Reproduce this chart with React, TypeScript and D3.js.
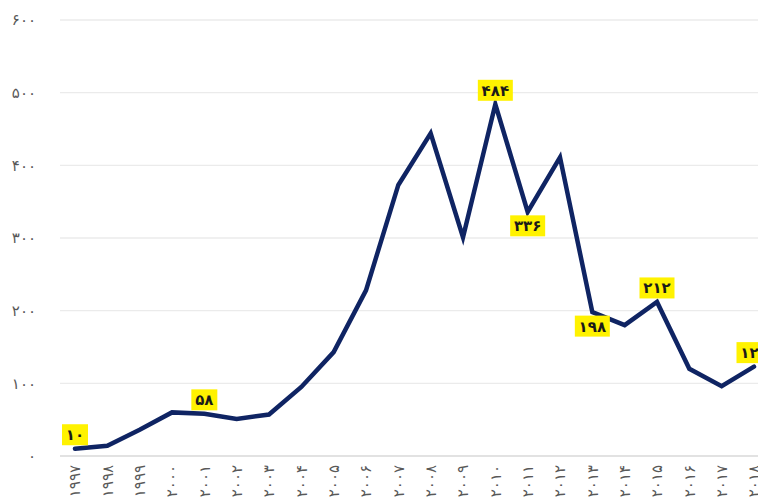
import React from "react";
import * as d3 from "d3";

const years = [1997,1998,1999,2000,2001,2002,2003,2004,2005,2006,2007,2008,2009,2010,2011,2012,2013,2014,2015,2016,2017,2018];
const values = [10,14,36,60,58,51,57,95,143,228,373,444,301,484,336,411,198,180,212,120,96,123];
const yTicks = [0,100,200,300,400,500,600];
// annotated years and whether label sits above or below point
const labeledYears = [1997,2001,2010,2011,2013,2015,2018];
const labelSide = ["above","above","above","below","below","above","above"];

const W = 758, H = 497;
const fa = (v: number | string) => String(v).replace(/\d/g, (c) => "۰۱۲۳۴۵۶۷۸۹"[+c]);

export default function App() {
  const x = d3.scaleLinear().domain([1997, 2018]).range([75, 754]);
  const y = d3.scaleLinear().domain([0, 600]).range([456, 20]);
  const line = d3.line<number>().x((_, i) => x(years[i])).y((d) => y(d));
  const font = "'DejaVu Sans', sans-serif";
  return (
    <svg width={W} height={H} style={{ position: "absolute", left: 0, top: 0, background: "#fff" }}>
      {yTicks.map((t) => (
        <g key={t}>
          <line x1={60} x2={W} y1={y(t)} y2={y(t)} stroke={t === 0 ? "#d9d9d9" : "#ebebeb"} strokeWidth={1.3} />
          <text x={36} y={y(t)} dy="0.35em" textAnchor="end" fontFamily={font} fontSize={15} fill="#595959">{fa(t)}</text>
        </g>
      ))}
      {years.map((yr) => (
        <text key={yr} transform={`translate(${x(yr)},465) rotate(-90)`} textAnchor="end" dy="0.35em"
          fontFamily={font} fontSize={15} fill="#595959">{fa(yr)}</text>
      ))}
      <path d={line(values) || ""} fill="none" stroke="#0f2463" strokeWidth={4.5} strokeLinejoin="miter" strokeLinecap="round" />
      {labeledYears.map((yr, k) => {
        const i = years.indexOf(yr);
        const px = x(yr), py = y(values[i]);
        const txt = fa(values[i]);
        const w = txt.length * 9 + 8;
        const h = 21;
        const cy = labelSide[k] === "above" ? py - 14 : py + 14;
        return (
          <g key={yr}>
            <rect x={px - w / 2} y={cy - h / 2} width={w} height={h} fill="#fff200" />
            <text x={px} y={cy} dy="0.36em" textAnchor="middle" fontFamily={font} fontWeight="bold" fontSize={15} fill="#1a1a1a">{txt}</text>
          </g>
        );
      })}
    </svg>
  );
}
